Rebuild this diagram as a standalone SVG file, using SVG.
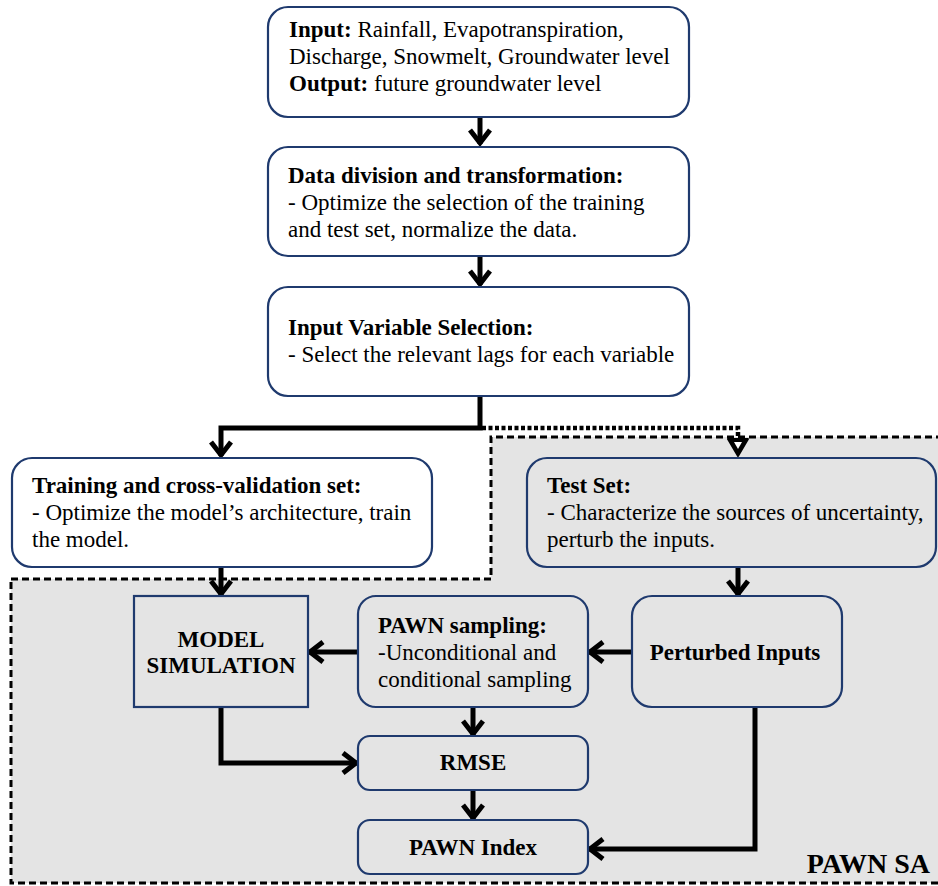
<svg xmlns="http://www.w3.org/2000/svg" width="938" height="886" viewBox="0 0 938 886">
<style>
text{font-family:"Liberation Serif","Times New Roman",serif;font-size:23px;fill:#000}
.b{font-weight:bold}
.box{fill:#fff;stroke:#1f3a6e;stroke-width:2.2}
.gbox{fill:#e4e4e4;stroke:#1f3a6e;stroke-width:2.2}
.c{fill:none;stroke:#000;stroke-width:5}
.dot{fill:none;stroke:#000;stroke-width:4.5;stroke-dasharray:4 2.5}
.mid{text-anchor:middle}
</style>
<defs>
<marker id="ah" viewBox="0 0 24 24" refX="20" refY="12" markerWidth="24" markerHeight="24" markerUnits="userSpaceOnUse" orient="auto">
<path d="M6,2 L19,12 L6,22" fill="none" stroke="#000" stroke-width="5"/>
</marker>
</defs>
<g id="pawn-region">
<path d="M11,579 H491 V437 H945 V883 H11 Z" fill="#e4e4e4" stroke="#000" stroke-width="3" stroke-dasharray="7 4"/>
<text class="b" x="930" y="873" style="font-size:28px" text-anchor="end">PAWN SA</text>
</g>
<g id="connectors">
<line class="c" x1="480" y1="117" x2="480" y2="144" marker-end="url(#ah)"/>
<line class="c" x1="480" y1="256" x2="480" y2="285" marker-end="url(#ah)"/>
<polyline class="c" points="480,396 480,428 221,428 221,456" marker-end="url(#ah)"/>
<polyline class="dot" points="482,428 738,428 738,438"/>
<path d="M728,439 L738,456 L748,439 Z" fill="#000" stroke="#000" stroke-width="2" stroke-linejoin="round"/>
<path d="M734,442 L738,449 L742,442 Z" fill="#fff"/>
<line class="c" x1="221" y1="567" x2="221" y2="595" marker-end="url(#ah)"/>
<line class="c" x1="738" y1="567" x2="738" y2="595" marker-end="url(#ah)"/>
<line class="c" x1="632" y1="652" x2="589" y2="652" marker-end="url(#ah)"/>
<line class="c" x1="358" y1="652" x2="309" y2="652" marker-end="url(#ah)"/>
<line class="c" x1="473" y1="707" x2="473" y2="735" marker-end="url(#ah)"/>
<line class="c" x1="473" y1="790" x2="473" y2="819" marker-end="url(#ah)"/>
<polyline class="c" points="221,707 221,763 357,763" marker-end="url(#ah)"/>
<polyline class="c" points="755,707 755,849 589,849" marker-end="url(#ah)"/>
</g>
<g id="input-output">
<rect class="box" x="268" y="7" width="421" height="110" rx="20"/>
<text x="289" y="37"><tspan class="b">Input:</tspan> Rainfall, Evapotranspiration,</text>
<text x="289" y="64">Discharge, Snowmelt, Groundwater level</text>
<text x="289" y="91"><tspan class="b">Output:</tspan> future groundwater level</text>
</g>
<g id="data-division">
<rect class="box" x="268" y="147" width="421" height="109" rx="20"/>
<text class="b" x="288" y="183">Data division and transformation:</text>
<text x="288" y="210">- Optimize the selection of the training</text>
<text x="288" y="237">and test set, normalize the data.</text>
</g>
<g id="input-variable-selection">
<rect class="box" x="268" y="287" width="421" height="109" rx="20"/>
<text class="b" x="288" y="335">Input Variable Selection:</text>
<text x="288" y="362">- Select the relevant lags for each variable</text>
</g>
<g id="training">
<rect class="box" x="12" y="458" width="420" height="109" rx="20"/>
<text class="b" x="32" y="493">Training and cross-validation set:</text>
<text x="32" y="520">- Optimize the model’s architecture, train</text>
<text x="32" y="547">the model.</text>
</g>
<g id="test-set">
<rect class="gbox" x="527" y="458" width="409" height="109" rx="20"/>
<text class="b" x="547" y="493">Test Set:</text>
<text x="547" y="520">- Characterize the sources of uncertainty,</text>
<text x="547" y="547">perturb the inputs.</text>
</g>
<g id="model-simulation">
<rect class="gbox" x="134" y="596" width="174" height="111"/>
<text class="b mid" x="221" y="647">MODEL</text>
<text class="b mid" x="221" y="673">SIMULATION</text>
</g>
<g id="pawn-sampling">
<rect class="gbox" x="358" y="596" width="230" height="111" rx="18"/>
<text class="b" x="378" y="633">PAWN sampling:</text>
<text x="378" y="660">-Unconditional and</text>
<text x="378" y="687">conditional sampling</text>
</g>
<g id="perturbed-inputs">
<rect class="gbox" x="632" y="596" width="210" height="111" rx="20"/>
<text class="b mid" x="735" y="660">Perturbed Inputs</text>
</g>
<g id="rmse">
<rect class="gbox" x="358" y="736" width="230" height="54" rx="12"/>
<text class="b mid" x="473" y="770">RMSE</text>
</g>
<g id="pawn-index">
<rect class="gbox" x="358" y="820" width="230" height="54" rx="12"/>
<text class="b mid" x="473" y="855">PAWN Index</text>
</g>
</svg>
